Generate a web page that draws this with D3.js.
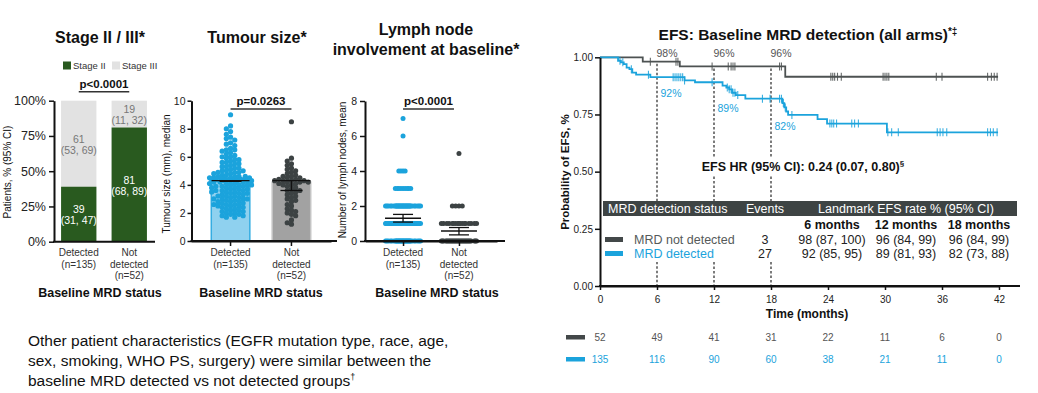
<!DOCTYPE html>
<html>
<head>
<meta charset="utf-8">
<script src="https://cdn.jsdelivr.net/npm/d3@7"></script>
<style>
  body { margin: 0; background: #fff; }
  svg { display: block; font-family: "Liberation Sans", Arial, sans-serif; }
</style>
</head>
<body>
<svg id="chart" width="1038" height="393"></svg>
<script>
// ── Data ───────────────────────────────────────────────────────────────────

var groups = ['Detected', 'Not detected'];
var groupLines = [['Detected', '(n=135)'], ['Not', 'detected', '(n=52)']];

var stageII = [39, 81];
var stageIICI = ['(31, 47)', '(68, 89)'];
var stageIII = [61, 19];
var stageIIICI = ['(53, 69)', '(11, 32)'];

var tumourDetected = [
  9.0, 8.2, 8.0, 7.8, 7.6, 7.4, 7.3, 7.2, 7.0, 6.9,
  6.8, 6.6, 6.5, 6.5, 6.4, 6.3, 6.2, 6.1, 6.0, 6.0,
  5.9, 5.8, 5.8, 5.7, 5.6, 5.6, 5.5, 5.5, 5.4, 5.3,
  5.3, 5.2, 5.2, 5.1, 5.0, 5.0, 5.0, 4.9, 4.9, 4.9,
  4.8, 4.8, 4.7, 4.7, 4.6, 4.6, 4.6, 4.6, 4.5, 4.5,
  4.5, 4.5, 4.5, 4.5, 4.5, 4.4, 4.4, 4.4, 4.4, 4.4,
  4.4, 4.4, 4.3, 4.3, 4.3, 4.3, 4.3,
  4.2, 4.2, 4.2, 4.1, 4.1, 4.1, 4.0, 4.0, 4.0, 4.0,
  3.9, 3.9, 3.9, 3.8, 3.8, 3.8, 3.7, 3.7, 3.7, 3.6,
  3.6, 3.6, 3.5, 3.5, 3.5, 3.4, 3.4, 3.4, 3.3, 3.3,
  3.2, 3.2, 3.2, 3.1, 3.1, 3.0, 3.0, 3.0, 3.0, 2.9,
  2.9, 2.8, 2.8, 2.8, 2.7, 2.7, 2.6, 2.6, 2.6, 2.5,
  2.5, 2.5, 2.4, 2.4, 2.3, 2.3, 2.2, 2.2, 2.1, 2.1,
  2.0, 2.0, 1.9, 1.9, 1.8, 1.8, 1.7, 1.7
];
var tumourNotDetected = [
  8.5, 5.9, 5.7, 5.5, 5.4, 5.2, 5.1, 5.0, 4.9, 4.8,
  4.7, 4.6, 4.6, 4.5, 4.5, 4.4, 4.4, 4.3, 4.3, 4.3,
  4.3, 4.2, 4.2, 4.2, 4.1, 4.1, 4.0, 4.0, 3.9, 3.8,
  3.7, 3.6, 3.6, 3.5, 3.4, 3.3, 3.2, 3.1, 3.0, 2.9,
  2.8, 2.6, 2.5, 2.3, 2.2, 2.1, 2.0, 1.9, 1.8, 1.5,
  1.3, 1.2
];
var tumourMedian = [4.25, 4.2];
var tumourCI = [[4.25, 4.3], [3.6, 4.3]];

var lymphValues = [0, 1, 2, 3, 4, 5, 6, 7];
var lymphDetectedCounts = [35, 50, 35, 9, 4, 0, 1, 1];
var lymphNotDetectedCounts = [30, 17, 4, 0, 0, 1, 0, 0];
var lymphMean = [1.3, 0.57];
var lymphCI = [[1.08, 1.52], [0.35, 0.77]];

// KM steps: [month, survival after the event]
var notDetSteps = [[0, 1], [4.5, 0.981], [8.4, 0.96], [19.5, 0.915]];
var notDetEnd = 41.9;
var notDetCensor = [5.3, 8.0, 8.2, 11.8, 13.5, 13.8, 14.0, 14.2, 18.9, 19.1,
  24.3, 24.5, 24.7, 25.0, 25.4, 29.8, 30.0, 30.2, 30.4, 35.4, 36.0, 40.8, 41.2, 41.5, 41.8];

var detSteps = [[0, 1], [1.9, 0.985], [2.2, 0.978], [2.5, 0.97], [2.8, 0.955], [3.1, 0.948],
  [3.4, 0.933], [3.8, 0.924], [5.3, 0.913], [8.9, 0.899], [10.0, 0.891], [12.9, 0.876],
  [13.3, 0.868], [13.6, 0.86], [13.9, 0.845], [14.3, 0.835], [15.3, 0.819], [19.2, 0.8],
  [19.4, 0.781], [19.6, 0.763], [19.8, 0.748], [22.9, 0.73], [23.9, 0.71], [30.2, 0.672]];
var detEnd = 41.9;
var detCensor = [2.1, 2.4, 3.3, 5.1, 7.7, 7.9, 8.1, 8.3, 8.5, 8.7, 8.9, 11.8, 13.4, 13.6,
  13.8, 14.0, 14.2, 14.5, 17.1, 17.9, 18.9, 19.1, 19.3, 19.5, 20.2, 24.2, 24.4, 24.6, 24.9,
  26.5, 26.8, 27.2, 30.3, 30.7, 31.4, 35.5, 35.8, 36.1, 36.5, 40.8, 41.1, 41.4, 41.8];

var monthTicks = [0, 6, 12, 18, 24, 30, 36, 42];
var riskNotDetected = [52, 49, 41, 31, 22, 11, 6, 0];
var riskDetected = [135, 116, 90, 60, 38, 21, 11, 0];

var landmarkMonths = [6, 12, 18];
var landmarkNotDet = [98, 96, 96];
var landmarkDet = [92, 89, 82];

var tableHeader = ['MRD detection status', 'Events', 'Landmark EFS rate % (95% CI)'];
var tableMonths = ['6 months', '12 months', '18 months'];
var tableRows = [
  { label: 'MRD not detected', events: 3, rates: ['98 (87, 100)', '96 (84, 99)', '96 (84, 99)'] },
  { label: 'MRD detected', events: 27, rates: ['92 (85, 95)', '89 (81, 93)', '82 (73, 88)'] }
];

var noteLines = [
  'Other patient characteristics (EGFR mutation type, race, age,',
  'sex, smoking, WHO PS, surgery) were similar between the',
  'baseline MRD detected vs not detected groups'
];

// ── Styles ─────────────────────────────────────────────────────────────────

var BLUE = '#1ba3dc';
var DARK = '#434849';
var GREEN = '#295a1f';
var LIGHT = '#e2e2e2';

var svg = d3.select('#chart');
svg.append('rect').attr('width', 1038).attr('height', 393).attr('fill', '#fff');

function addText(g, x, y, str, size, opts) {
  opts = opts || {};
  return g.append('text')
    .attr('x', x).attr('y', y)
    .attr('font-size', size)
    .attr('font-weight', opts.bold ? 'bold' : null)
    .attr('text-anchor', opts.anchor || 'middle')
    .attr('fill', opts.fill || '#111')
    .text(str);
}

function styleAxis(g, size) {
  g.attr('font-family', null).attr('font-size', size);
  g.select('.domain').attr('stroke', '#111').attr('stroke-width', 2);
  g.selectAll('.tick line').attr('stroke', '#111').attr('stroke-width', 1.5);
  g.selectAll('.tick text').attr('fill', '#222');
}

function groupLabels(g, x, baseY) {
  groups.forEach(function(grp, i) {
    groupLines[i].forEach(function(line, j) {
      addText(g, x(grp), baseY + j * 11.5, line, 10, { fill: '#333' });
    });
  });
}

function yLabel(g, x, y, str, size, bold) {
  addText(g, 0, 0, str, size, { bold: bold })
    .attr('transform', 'translate(' + x + ',' + y + ') rotate(-90)');
}

function pBracket(g, x1, x2, y, str) {
  g.append('line').attr('x1', x1).attr('x2', x2).attr('y1', y).attr('y2', y)
    .attr('stroke', '#333').attr('stroke-width', 1.5);
  addText(g, (x1 + x2) / 2, y - 4, str, 11.5, { bold: true });
}

// Simple beeswarm: keep each dot on its value, push sideways until free
function swarm(values, cx, y, gap, maxHalf) {
  var placed = [];
  values.slice().sort(function(a, b) { return b - a; }).forEach(function(v) {
    var py = y(v);
    var best = 0, bestScore = -1;
    for (var k = 0; k < 200; k++) {
      var off = (k % 2 === 0 ? 1 : -1) * Math.ceil(k / 2) * gap * 0.5;
      if (Math.abs(off) > maxHalf) continue;
      var minD = Infinity;
      placed.forEach(function(p) {
        var d = Math.hypot(p.x - (cx + off), p.y - py);
        if (d < minD) minD = d;
      });
      if (minD >= gap) { best = off; bestScore = Infinity; break; }
      if (minD > bestScore) { bestScore = minD; best = off; }
    }
    placed.push({ x: cx + best, y: py, v: v });
  });
  return placed;
}

// ── Stage II / III ─────────────────────────────────────────────────────────

function drawStage() {
  var g = svg.append('g');
  var x = d3.scaleBand().domain(groups).range([54, 154]).paddingInner(0.3).paddingOuter(0.14);
  var y = d3.scaleLinear().domain([0, 100]).range([241.7, 100.7]);

  addText(g, 100, 43, 'Stage II / III*', 16, { bold: true });

  // legend
  [['Stage II', GREEN, 63], ['Stage III', LIGHT, 112]].forEach(function(l) {
    g.append('rect').attr('x', l[2]).attr('y', 61.5).attr('width', 8).attr('height', 8).attr('fill', l[1]);
    addText(g, l[2] + 10, 69, l[0], 9.5, { anchor: 'start', fill: '#333' });
  });

  pBracket(g, x('Detected') + x.bandwidth() / 2, x('Not detected') + x.bandwidth() / 2, 91.7, 'p<0.0001');

  g.selectAll('rect.s3').data(groups).join('rect')
    .attr('x', function(d) { return x(d); })
    .attr('y', y(100))
    .attr('width', x.bandwidth())
    .attr('height', function(d, i) { return y(stageII[i]) - y(100); })
    .attr('fill', LIGHT);
  g.selectAll('rect.s2').data(groups).join('rect')
    .attr('x', function(d) { return x(d); })
    .attr('y', function(d, i) { return y(stageII[i]); })
    .attr('width', x.bandwidth())
    .attr('height', function(d, i) { return y(0) - y(stageII[i]); })
    .attr('fill', GREEN);

  groups.forEach(function(grp, i) {
    var cx = x(grp) + x.bandwidth() / 2;
    var m3 = y(stageII[i] + stageIII[i] / 2);
    addText(g, cx, m3 - 1, String(stageIII[i]), 10.5, { fill: '#777' });
    addText(g, cx, m3 + 10, stageIIICI[i], 10.5, { fill: '#777' });
    var m2 = y(stageII[i] / 2);
    addText(g, cx, m2 - 1, String(stageII[i]), 10.5, { fill: '#fff' });
    addText(g, cx, m2 + 10, stageIICI[i], 10.5, { fill: '#fff' });
  });

  var ax = g.append('g').attr('transform', 'translate(54,0)')
    .call(d3.axisLeft(y).tickValues([0, 25, 50, 75, 100])
      .tickFormat(function(d) { return d + '%'; }).tickSize(5).tickSizeOuter(0).tickPadding(3));
  styleAxis(ax, 12.5);
  g.append('line').attr('x1', 53).attr('x2', 155).attr('y1', y(0)).attr('y2', y(0))
    .attr('stroke', '#111').attr('stroke-width', 2);

  yLabel(g, 11, 172, 'Patients, % (95% CI)', 10);
  groupLabels(g, function(d) { return x(d) + x.bandwidth() / 2; }, 256);
  addText(g, 100, 297, 'Baseline MRD status', 12.5, { bold: true });
}

// ── Tumour size ────────────────────────────────────────────────────────────

function drawTumour() {
  var g = svg.append('g');
  var x = d3.scaleBand().domain(groups).range([191, 331]).paddingInner(0.367).paddingOuter(0.333);
  var y = d3.scaleLinear().domain([0, 10]).range([241, 100.7]);
  var cx = function(d) { return x(d) + x.bandwidth() / 2; };

  addText(g, 257, 43, 'Tumour size*', 16, { bold: true });
  pBracket(g, cx('Detected'), cx('Not detected'), 109, 'p=0.0263');

  var fills = ['#8fd1ef', '#a2a2a2'], strokes = ['#35ade2', '#c4c4c4'], dots = [BLUE, '#3c4243'];
  g.selectAll('rect.bar').data(groups).join('rect')
    .attr('x', function(d) { return x(d); })
    .attr('y', function(d, i) { return y(tumourMedian[i]); })
    .attr('width', x.bandwidth())
    .attr('height', function(d, i) { return y(0) - y(tumourMedian[i]); })
    .attr('fill', function(d, i) { return fills[i]; })
    .attr('stroke', function(d, i) { return strokes[i]; })
    .attr('stroke-width', 1.5);

  [tumourDetected, tumourNotDetected].forEach(function(vals, i) {
    var pts = swarm(vals, cx(groups[i]), y, 4.2, 21);
    g.append('g').selectAll('circle').data(pts).join('circle')
      .attr('cx', function(d) { return d.x; })
      .attr('cy', function(d) { return d.y; })
      .attr('r', 2.6)
      .attr('fill', dots[i]);
  });

  groups.forEach(function(grp, i) {
    var c = cx(grp);
    g.append('line').attr('x1', c - 19).attr('x2', c + 19)
      .attr('y1', y(tumourCI[i][1])).attr('y2', y(tumourCI[i][1]))
      .attr('stroke', '#111').attr('stroke-width', 1.3);
    g.append('line').attr('x1', c - 11).attr('x2', c + 11)
      .attr('y1', y(tumourCI[i][0])).attr('y2', y(tumourCI[i][0]))
      .attr('stroke', '#111').attr('stroke-width', 1.3);
    g.append('line').attr('x1', c).attr('x2', c)
      .attr('y1', y(tumourCI[i][0])).attr('y2', y(tumourCI[i][1]))
      .attr('stroke', '#111').attr('stroke-width', 1.3);
  });

  var ax = g.append('g').attr('transform', 'translate(191.5,0)')
    .call(d3.axisLeft(y).tickValues([0, 2, 4, 6, 8, 10]).tickSize(4).tickSizeOuter(0).tickPadding(2));
  styleAxis(ax, 10.5);
  var bx = g.append('g').attr('transform', 'translate(0,' + y(0) + ')')
    .call(d3.axisBottom(x).tickSize(5).tickSizeOuter(0).tickFormat(''));
  styleAxis(bx, 10);
  g.append('line').attr('x1', 190.5).attr('x2', 337).attr('y1', y(0)).attr('y2', y(0))
    .attr('stroke', '#111').attr('stroke-width', 2);

  yLabel(g, 170, 174, 'Tumour size (mm), median', 10);
  groupLabels(g, cx, 256);
  addText(g, 261, 297, 'Baseline MRD status', 12.5, { bold: true });
}

// ── Lymph node involvement ─────────────────────────────────────────────────

function drawLymph() {
  var g = svg.append('g');
  var x = d3.scalePoint().domain(groups).range([365, 497]).padding(0.68);
  var y = d3.scaleLinear().domain([0, 8]).range([241, 101]);

  addText(g, 426, 35, 'Lymph node', 16, { bold: true });
  addText(g, 426, 55, 'involvement at baseline*', 16, { bold: true });
  pBracket(g, x('Detected'), x('Not detected') - 5, 109, 'p<0.0001');

  var dots = [BLUE, '#3c4243'], gaps = [0.7, 1.1];
  [lymphDetectedCounts, lymphNotDetectedCounts].forEach(function(counts, i) {
    var vals = [];
    lymphValues.forEach(function(v, j) { for (var k = 0; k < counts[j]; k++) vals.push(v); });
    var pts = swarm(vals, x(groups[i]), y, gaps[i] * 2, 18);
    g.append('g').selectAll('circle').data(pts).join('circle')
      .attr('cx', function(d) { return d.x; })
      .attr('cy', function(d) { return d.y; })
      .attr('r', 2.5)
      .attr('fill', dots[i]);
  });

  groups.forEach(function(grp, i) {
    var c = x(grp);
    g.append('line').attr('x1', c - 18).attr('x2', c + 18)
      .attr('y1', y(lymphMean[i])).attr('y2', y(lymphMean[i]))
      .attr('stroke', '#111').attr('stroke-width', 1.5);
    [0, 1].forEach(function(k) {
      g.append('line').attr('x1', c - 10).attr('x2', c + 10)
        .attr('y1', y(lymphCI[i][k])).attr('y2', y(lymphCI[i][k]))
        .attr('stroke', '#111').attr('stroke-width', 1.3);
    });
    g.append('line').attr('x1', c).attr('x2', c)
      .attr('y1', y(lymphCI[i][0])).attr('y2', y(lymphCI[i][1]))
      .attr('stroke', '#111').attr('stroke-width', 1.3);
  });

  var ax = g.append('g').attr('transform', 'translate(365,0)')
    .call(d3.axisLeft(y).tickValues([0, 2, 4, 6, 8]).tickSize(5).tickSizeOuter(0).tickPadding(3));
  styleAxis(ax, 10.5);
  var bx = g.append('g').attr('transform', 'translate(0,' + y(0) + ')')
    .call(d3.axisBottom(x).tickSize(5).tickSizeOuter(0).tickFormat(''));
  styleAxis(bx, 10);
  g.append('line').attr('x1', 364).attr('x2', 505).attr('y1', y(0)).attr('y2', y(0))
    .attr('stroke', '#111').attr('stroke-width', 2);

  yLabel(g, 346, 170, 'Number of lymph nodes, mean', 10);
  groupLabels(g, x, 256);
  addText(g, 437, 297, 'Baseline MRD status', 12.5, { bold: true });
}

// ── EFS Kaplan-Meier ───────────────────────────────────────────────────────

function survivalAt(steps, t) {
  var s = 1;
  steps.forEach(function(p) { if (p[0] <= t) s = p[1]; });
  return s;
}

function drawEfs() {
  var g = svg.append('g');
  var x = d3.scaleLinear().domain([0, 42]).range([600, 999]);
  var y = d3.scaleLinear().domain([0, 1]).range([286, 57.3]);

  var title = addText(g, 808, 40, 'EFS: Baseline MRD detection (all arms)', 15.5, { bold: true });
  title.append('tspan').attr('font-size', 10).attr('dy', -5).text('*‡');

  // landmark dashed lines
  landmarkMonths.forEach(function(m) {
    g.append('line').attr('x1', x(m)).attr('x2', x(m))
      .attr('y1', y(survivalAt(notDetSteps, m)) + 2).attr('y2', y(0))
      .attr('stroke', '#111').attr('stroke-width', 1.1).attr('stroke-dasharray', '2.5,2');
  });

  // HR label over a white patch
  g.append('rect').attr('x', 701).attr('y', 157).attr('width', 205).attr('height', 18).attr('fill', '#fff');
  var hr = addText(g, 803, 170.5, 'EFS HR (95% CI): 0.24 (0.07, 0.80)', 12.5, { bold: true });
  hr.append('tspan').attr('font-size', 8).attr('dy', -5).text('§');

  // table
  g.append('rect').attr('x', 603).attr('y', 216).attr('width', 414).attr('height', 46).attr('fill', '#fff');
  g.append('rect').attr('x', 603).attr('y', 201).attr('width', 414).attr('height', 15).attr('fill', '#3e4444');
  var colX = [608, 765, 906];
  addText(g, colX[0], 213, tableHeader[0], 12.5, { anchor: 'start', fill: '#fff' });
  addText(g, colX[1], 213, tableHeader[1], 12.5, { fill: '#fff' });
  addText(g, colX[2], 213, tableHeader[2], 12.5, { fill: '#fff' });
  var rateX = [832, 906, 979];
  tableMonths.forEach(function(m, i) { addText(g, rateX[i], 228.5, m, 12.5, { bold: true }); });
  var rowColors = ['#555a5a', BLUE], swatch = [DARK, BLUE];
  tableRows.forEach(function(r, i) {
    var by = 243.5 + i * 14;
    g.append('rect').attr('x', 605).attr('y', by - 6.5).attr('width', 18).attr('height', 5).attr('fill', swatch[i]);
    addText(g, 634, by, r.label, 12.5, { anchor: 'start', fill: rowColors[i] });
    addText(g, colX[1], by, String(r.events), 12.5, { fill: '#222' });
    r.rates.forEach(function(v, j) { addText(g, rateX[j], by, v, 12.5, { fill: '#222' }); });
  });

  // curves
  var line = d3.line()
    .x(function(d) { return x(d[0]); })
    .y(function(d) { return y(d[1]); })
    .curve(d3.curveStepAfter);
  var curves = [
    { steps: notDetSteps, end: notDetEnd, censor: notDetCensor, color: '#4d5252' },
    { steps: detSteps, end: detEnd, censor: detCensor, color: BLUE }
  ];
  curves.forEach(function(c) {
    var pts = c.steps.concat([[c.end, c.steps[c.steps.length - 1][1]]]);
    g.append('path').datum(pts).attr('d', line)
      .attr('fill', 'none').attr('stroke', c.color).attr('stroke-width', 1.8);
    g.append('g').selectAll('line').data(c.censor).join('line')
      .attr('x1', function(d) { return x(d); })
      .attr('x2', function(d) { return x(d); })
      .attr('y1', function(d) { return y(survivalAt(c.steps, d)) - 4; })
      .attr('y2', function(d) { return y(survivalAt(c.steps, d)) + 4; })
      .attr('stroke', c.color).attr('stroke-width', 1.1).attr('opacity', 0.85);
  });

  // landmark labels
  var detOffsets = [17, 26, 28];
  landmarkMonths.forEach(function(m, i) {
    addText(g, x(m) + 10, 57, landmarkNotDet[i] + '%', 10.5, { fill: '#555' });
    addText(g, x(m) + 14, y(landmarkDet[i] / 100) + detOffsets[i] + 4, landmarkDet[i] + '%', 10.5, { fill: BLUE });
  });

  // axes
  var ax = g.append('g').attr('transform', 'translate(600,0)')
    .call(d3.axisLeft(y).tickValues([0, 0.25, 0.5, 0.75, 1]).tickFormat(d3.format('.2f'))
      .tickSize(5).tickSizeOuter(0).tickPadding(2));
  styleAxis(ax, 10);
  var bx = g.append('g').attr('transform', 'translate(0,286)')
    .call(d3.axisBottom(x).tickValues(monthTicks).tickSize(4).tickSizeOuter(0).tickPadding(6));
  styleAxis(bx, 10);
  g.append('line').attr('x1', 599).attr('x2', 1020).attr('y1', 286).attr('y2', 286)
    .attr('stroke', '#111').attr('stroke-width', 2);

  yLabel(g, 569, 172, 'Probability of EFS, %', 11.5, true);
  addText(g, 807, 318, 'Time (months)', 12, { bold: true });

  // numbers at risk
  [[riskNotDetected, DARK, '#555'], [riskDetected, BLUE, BLUE]].forEach(function(r, i) {
    var by = 341 + i * 22;
    g.append('rect').attr('x', 566).attr('y', by - 6).attr('width', 19).attr('height', 4.5).attr('fill', r[1]);
    g.append('g').selectAll('text').data(r[0]).join('text')
      .attr('x', function(d, j) { return x(monthTicks[j]); })
      .attr('y', by)
      .attr('font-size', 10)
      .attr('text-anchor', 'middle')
      .attr('fill', r[2])
      .text(function(d) { return d; });
  });
}

// ── Note ───────────────────────────────────────────────────────────────────

function drawNote() {
  var g = svg.append('g');
  noteLines.forEach(function(l, i) {
    var t = addText(g, 28, 346 + i * 20, l, 15.5, { anchor: 'start', fill: '#111' });
    if (i === noteLines.length - 1) t.append('tspan').attr('font-size', 9).attr('dy', -6).text('†');
  });
}

drawStage();
drawTumour();
drawLymph();
drawEfs();
drawNote();
</script>
</body>
</html>
